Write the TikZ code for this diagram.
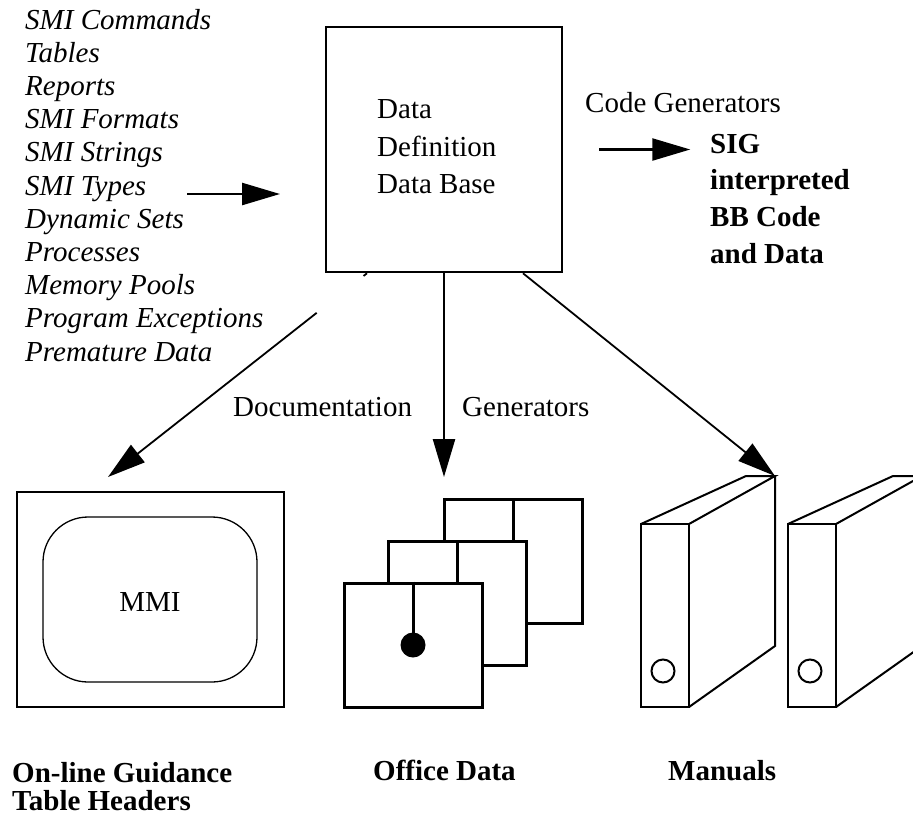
\documentclass[tikz,border=0pt]{standalone}
\usepackage{fontspec}
\setmainfont{Liberation Serif}
\usetikzlibrary{arrows.meta}
\begin{document}
\begin{tikzpicture}[x=1pt,y=-1pt,
  txt/.style={inner sep=0pt, anchor=base west, font=\fontsize{29}{33}\selectfont},
  itxt/.style={txt, font=\fontsize{29}{33}\selectfont\itshape},
  btxt/.style={txt, font=\fontsize{29}{33}\selectfont\bfseries},
  tip/.style={-{Triangle[length=38pt,width=22pt]}},
  conn/.style={tip, line width=2.5pt},
  slant/.style={tip, line width=1.8pt},
  page/.style={draw, fill=white, line width=3pt, minimum width=138pt,
    minimum height=124pt, inner sep=0pt},
  spine/.style={line width=2.7pt},
  cover/.style={line width=2pt, line join=miter},
]
\useasboundingbox (0,0) rectangle (913,815);

% ---- source items -------------------------------------------------
\foreach \t [count=\i] in {SMI Commands, Tables, Reports, SMI Formats,
    SMI Strings, SMI Types, Dynamic Sets, Processes, Memory Pools,
    Program Exceptions, Premature Data}
  \node[itxt] (in\i) at (25, {29+33.2*(\i-1)}) {\t};

% ---- central data base --------------------------------------------
\node[draw, line width=2.5pt, minimum width=236pt, minimum height=245pt,
      inner sep=0pt] (ddb) at (444,149.5) {};
\node[txt] (ddb1) at (377,118) {Data};
\node[txt] (ddb2) at (377,156) {Definition};
\node[txt] (ddb3) at (377,193) {Data Base};

\coordinate (inA) at (187,194);
\coordinate (inB) at (280,194);
\draw[conn] (inA) -- (inB);

% ---- code generators ----------------------------------------------
\node[txt] (cg) at (585,112) {Code Generators};
\node[btxt] (sig1) at (710,153) {SIG};
\node[btxt] (sig2) at (710,189) {interpreted};
\node[btxt] (sig3) at (710,226) {BB Code};
\node[btxt] (sig4) at (710,263) {and Data};
\draw[conn] ([xshift=36pt]ddb.east) -- ([xshift=127pt]ddb.east);

% ---- MMI screen ---------------------------------------------------
\node[draw, line width=1.7pt, minimum width=267pt, minimum height=215pt,
      inner sep=0pt] (screen) at (150.5,599.5) {};
\node[draw, line width=1.3pt, rounded corners=45pt, minimum width=214pt,
      minimum height=165pt, inner sep=0pt, text height=23pt,
      font=\fontsize{29}{33}\selectfont] (mmi) at (150,599.5) {MMI};
\coordinate (docTip) at (108,477);
\draw[slant, dash pattern=on 4.4pt off 59.6pt on 2000pt]
  ([xshift=-77pt]ddb.south) -- (docTip);
\node[txt] (doc) at (233,416) {Documentation};

% ---- office data pages --------------------------------------------
\coordinate (offTip) at (444,477);
\draw[conn] (ddb.south) -- (offTip);
\node[txt] (gen) at (462,416) {Generators};
\foreach \n/\p in {pback/{(513,561.5)}, pmid/{(457,603.5)}, pfront/{(413,645)}} {
  \node[page] (\n) at \p {};
  \draw[line width=3pt] (\n.north) -- (\n.center);
  \fill (\n.center) circle (12.5pt);
}

% ---- manuals ------------------------------------------------------
\coordinate (man) at (775,476);
\begin{scope}
  \clip (0,0) rectangle (913,815);
  \foreach \dx in {0,147} {
    \begin{scope}[xshift=\dx pt]
      \draw[cover] (641,524) -- (746,476) -- (775,476) -- (689,524);
      \draw[cover] (775,476) -- (775,646) -- (689,707);
      \draw[spine, fill=white] (641,524) rectangle (689,707);
      \draw[line width=2pt] (663,671) circle (11.5pt);
    \end{scope}
  }
\end{scope}
\draw[slant] ([xshift=79pt]ddb.south) -- (man);

% ---- captions -----------------------------------------------------
\node[btxt] (cap1) at (12,782) {On-line Guidance};
\node[btxt] (cap2) at (12,810) {Table Headers};
\node[btxt] (cap3) at (373,780) {Office Data};
\node[btxt] (cap4) at (668,780) {Manuals};
\end{tikzpicture}
\end{document}
